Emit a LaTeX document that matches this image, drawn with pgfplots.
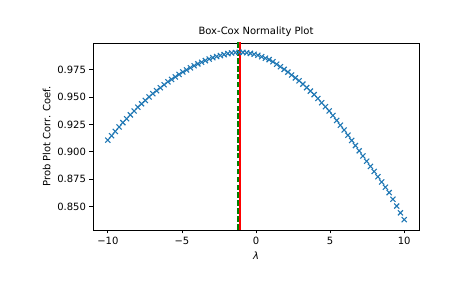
\documentclass[border=0pt]{standalone}
\usepackage{pgfplots}
\pgfplotsset{compat=1.18}
\usepackage{fontspec}
\setmainfont{DejaVu Sans}
\definecolor{mplblue}{HTML}{1F77B4}
\definecolor{mplgreen}{rgb}{0,0.5,0}
\pgfplotstableread{
lam ppcc
-10.000 0.9107
-9.747 0.9147
-9.494 0.9187
-9.241 0.9227
-8.987 0.9267
-8.734 0.9302
-8.481 0.9338
-8.228 0.9373
-7.975 0.9408
-7.722 0.9439
-7.468 0.9470
-7.215 0.9502
-6.962 0.9532
-6.709 0.9559
-6.456 0.9586
-6.203 0.9613
-5.949 0.9640
-5.696 0.9662
-5.443 0.9685
-5.190 0.9708
-4.937 0.9730
-4.684 0.9749
-4.430 0.9768
-4.177 0.9787
-3.924 0.9804
-3.671 0.9819
-3.418 0.9834
-3.165 0.9848
-2.911 0.9861
-2.658 0.9871
-2.405 0.9880
-2.152 0.9889
-1.899 0.9898
-1.646 0.9904
-1.392 0.9908
-1.139 0.9910
-0.886 0.9909
-0.633 0.9906
-0.380 0.9900
-0.127 0.9892
0.127 0.9883
0.380 0.9870
0.633 0.9856
0.886 0.9843
1.139 0.9824
1.392 0.9801
1.646 0.9778
1.899 0.9754
2.152 0.9729
2.405 0.9702
2.658 0.9676
2.911 0.9649
3.165 0.9619
3.418 0.9587
3.671 0.9555
3.924 0.9523
4.177 0.9487
4.430 0.9449
4.684 0.9412
4.937 0.9374
5.190 0.9332
5.443 0.9287
5.696 0.9243
5.949 0.9199
6.203 0.9152
6.456 0.9104
6.709 0.9057
6.962 0.9009
7.215 0.8962
7.468 0.8914
7.722 0.8867
7.975 0.8820
8.228 0.8772
8.481 0.8724
8.734 0.8676
8.987 0.8627
9.241 0.8566
9.494 0.8504
9.747 0.8442
10.000 0.8380
}\ppcctable
\begin{document}
\begin{tikzpicture}
\path[use as bounding box] (-93pt,-58pt) rectangle (372pt,230pt);
\begin{axis}[
  at={(0,0)}, anchor=south west,
  scale only axis, width=326pt, height=187pt,
  xmin=-11, xmax=11, ymin=0.8285, ymax=0.9995,
  xtick={-10,-5,0,5,10},
  xticklabels={−10,−5,0,5,10},
  ytick={0.85,0.875,0.9,0.925,0.95,0.975},
  yticklabels={0.850,0.875,0.900,0.925,0.950,0.975},
  /pgf/number format/assume math mode=true,
  tick align=outside, tick pos=left,
  major tick length=3.5pt,
  every tick/.style={line width=0.8pt, black},
  axis line style={line width=0.8pt},
  font=\fontsize{10}{12}\selectfont,
  title={Box-Cox Normality Plot},
  title style={yshift=-3pt},
  xlabel={\itshape λ},
  ylabel={Prob Plot Corr. Coef.},
  clip=true,
]
\addplot[only marks, mark=x, mark size=3.6pt, mark options={mplblue, line width=1.1pt}] table[x=lam, y=ppcc] {\ppcctable};
\addplot[red, line width=1.6pt] coordinates {(-1.07,0.80) (-1.07,1.02)};
\addplot[mplgreen, line width=1.5pt, dash pattern=on 5.5pt off 2.4pt] coordinates {(-1.22,0.80) (-1.22,1.02)};
\end{axis}
\end{tikzpicture}
\end{document}
